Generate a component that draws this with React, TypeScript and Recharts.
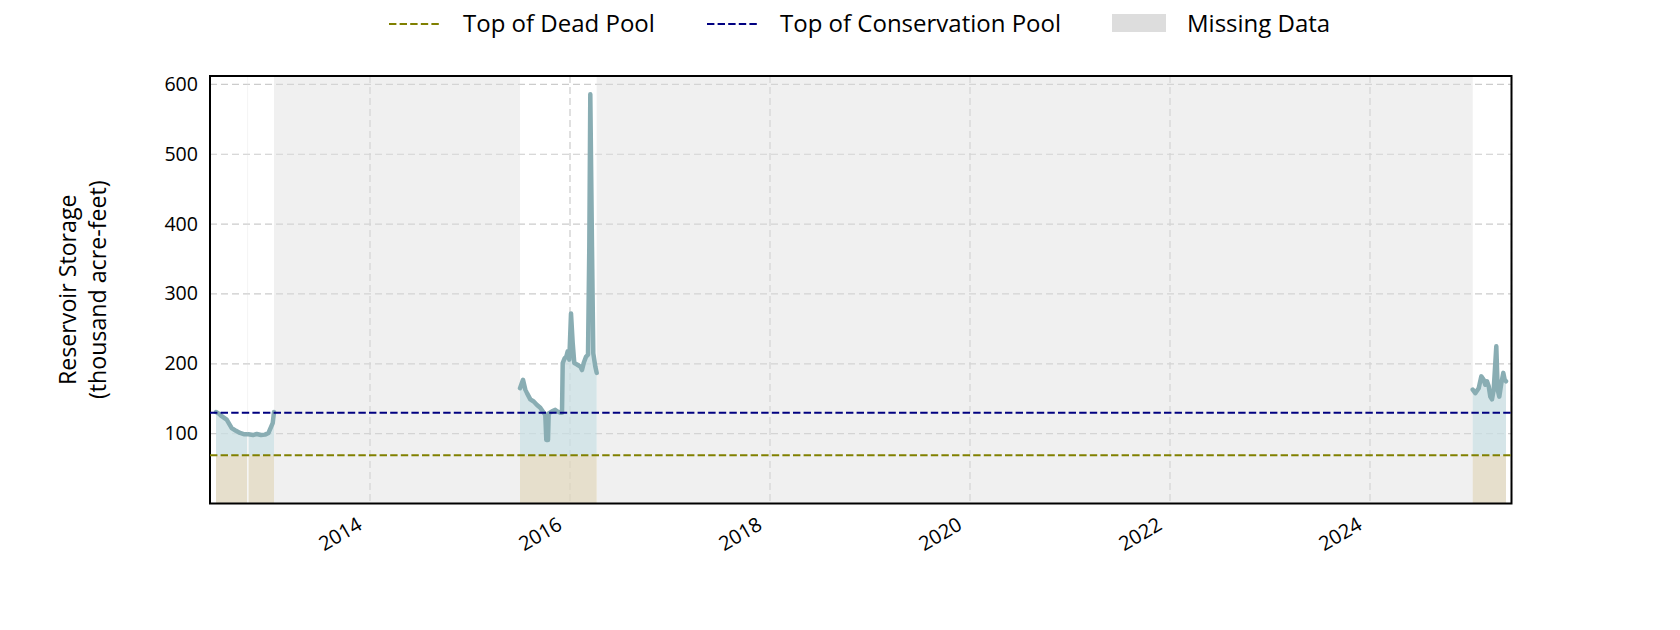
import React from "react";
import {
  ComposedChart,
  Line,
  Area,
  XAxis,
  YAxis,
  CartesianGrid,
  ReferenceArea,
  ReferenceLine,
} from "recharts";

// storage readings, thousand acre-feet, by decimal year
const seg1Years = [2012.46, 2012.485, 2012.517, 2012.567, 2012.617, 2012.66, 2012.7, 2012.745, 2012.77, 2012.777, 2012.785, 2012.83, 2012.867, 2012.91, 2012.95, 2012.985, 2013.0, 2013.027, 2013.04];
const seg1Storage = [131, 129, 125, 120, 108, 104, 101, 99, 99, null, 99, 98, 99.5, 98, 98.6, 101, 106, 115, 131];

const seg2Years = [2015.5, 2015.53, 2015.553, 2015.57, 2015.603, 2015.637, 2015.67, 2015.703, 2015.737, 2015.753, 2015.763, 2015.78, 2015.787, 2015.82, 2015.853, 2015.87, 2015.903, 2015.92, 2015.927, 2015.947, 2015.963, 2015.977, 2015.993, 2016.01, 2016.027, 2016.043, 2016.07, 2016.103, 2016.12, 2016.137, 2016.16, 2016.18, 2016.193, 2016.203, 2016.22, 2016.233, 2016.253, 2016.267];
const seg2Storage = [165, 177, 163, 158, 149, 146, 141, 137, 130, 127, 91, 91, 129, 132, 134, 132, 130, 130, 201, 208, 210, 218, 206, 272, 230, 201, 199, 196, 191, 201, 210, 213, 367, 586, 367, 215, 196, 187];

const seg3Years = [2025.027, 2025.053, 2025.087, 2025.113, 2025.137, 2025.153, 2025.17, 2025.187, 2025.203, 2025.22, 2025.237, 2025.253, 2025.263, 2025.277, 2025.293, 2025.313, 2025.333, 2025.347, 2025.36];
const seg3Storage = [163, 158, 165, 182, 177, 170, 175, 168, 153, 149, 163, 201, 225, 163, 153, 172, 187, 177, 175];

const deadPool = 69;
const conservationPool = 130;

const missingStart = [2012.773, 2013.04, 2016.267];
const missingEnd = [2012.781, 2015.5, 2025.027];

const yearTicks = [2014, 2016, 2018, 2020, 2022, 2024];
const storageTicks = [100, 200, 300, 400, 500, 600];
const xDomain = [2012.4, 2025.415];
const yDomain = [0, 612];

const FONT = "'Open Sans', sans-serif";

function toRows(years: number[], values: (number | null)[]) {
  return years.map((year, i) => ({ year, storage: values[i] }));
}

// null rows break the line across the data gaps
const rows = [
  ...toRows(seg1Years, seg1Storage),
  { year: 2014, storage: null },
  ...toRows(seg2Years, seg2Storage),
  { year: 2020, storage: null },
  ...toRows(seg3Years, seg3Storage),
];

const deadFill = (d: any) => (d.storage == null ? null : Math.min(d.storage, deadPool));
const activeFill = (d: any) => (d.storage == null ? null : [deadPool, Math.max(d.storage, deadPool)]);

function XTick({ x, y, payload }: any) {
  const ax = x - 6.5;
  const ay = y + 23;
  return (
    <text x={ax} y={ay} textAnchor="end" transform={`rotate(-30, ${ax}, ${ay})`} fontSize={20} fill="#000">
      {payload.value}
    </text>
  );
}

function YTick({ x, y, payload }: any) {
  return (
    <text x={x} y={y + 6.5} textAnchor="end" fontSize={19.6} fill="#000">
      {payload.value}
    </text>
  );
}

function YLabel({ viewBox }: any) {
  const cx = viewBox.x + 81.7;
  const cy = viewBox.y + viewBox.height / 2;
  return (
    <text
      transform={`rotate(-90, ${cx}, ${cy})`}
      x={cx}
      y={cy}
      textAnchor="middle"
      dominantBaseline="central"
      fontSize={23.2}
      fill="#000"
    >
      <tspan x={cx} dy={-15}>Reservoir Storage</tspan>
      <tspan x={cx} dy={30}>(thousand acre-feet)</tspan>
    </text>
  );
}

function LegendLine({ color }: { color: string }) {
  return (
    <svg width={52} height={6} style={{ display: "block" }}>
      <line x1={0} x2={52} y1={3} y2={3} stroke={color} strokeWidth={2.2} strokeDasharray="7.4 3.2" />
    </svg>
  );
}

function TopLegend() {
  const text: React.CSSProperties = { position: "absolute", top: 6, fontSize: 24, lineHeight: "34px", color: "#000" };
  return (
    <div style={{ position: "absolute", left: 0, top: 0, width: 1680, height: 50, fontFamily: FONT }}>
      <div style={{ position: "absolute", left: 389, top: 21 }}>
        <LegendLine color="#808000" />
      </div>
      <div style={{ ...text, left: 463 }}>Top of Dead Pool</div>
      <div style={{ position: "absolute", left: 707, top: 21 }}>
        <LegendLine color="#000080" />
      </div>
      <div style={{ ...text, left: 780 }}>Top of Conservation Pool</div>
      <div style={{ position: "absolute", left: 1112, top: 14, width: 54, height: 18, background: "#dddddd" }} />
      <div style={{ ...text, left: 1187 }}>Missing Data</div>
    </div>
  );
}

export default function App() {
  return (
    <div style={{ position: "absolute", left: 0, top: 0, width: 1680, height: 630, background: "#fff", fontFamily: FONT }}>
      <ComposedChart width={1680} height={630} data={rows} margin={{ top: 76, right: 168.5, bottom: 0, left: 0 }}>
        <CartesianGrid stroke="#cccccc" strokeDasharray="7 4" strokeWidth={1.2} />
        {missingStart.map((s, i) => (
          <ReferenceArea
            key={i}
            x1={s}
            x2={missingEnd[i]}
            y1={yDomain[0]}
            y2={yDomain[1]}
            fill="#dddddd"
            fillOpacity={0.45}
            stroke="none"
          />
        ))}
        <XAxis
          dataKey="year"
          type="number"
          domain={xDomain}
          ticks={yearTicks}
          allowDataOverflow
          axisLine={false}
          tickLine={false}
          tickSize={0}
          height={126.5}
          tick={<XTick />}
          interval={0}
        />
        <YAxis
          type="number"
          domain={yDomain}
          ticks={storageTicks}
          allowDataOverflow
          axisLine={false}
          tickLine={false}
          tickSize={0}
          tickMargin={12}
          width={210}
          tick={<YTick />}
          interval={0}
          label={{ content: YLabel }}
        />
        <Area
          type="linear"
          dataKey={deadFill}
          fill="#e0d7bf"
          fillOpacity={0.8}
          stroke="none"
          isAnimationActive={false}
          connectNulls={false}
        />
        <Area
          type="linear"
          dataKey={activeFill}
          fill="#cadee2"
          fillOpacity={0.8}
          stroke="none"
          isAnimationActive={false}
          connectNulls={false}
        />
        <Line
          type="linear"
          dataKey="storage"
          stroke="#89adb3"
          strokeWidth={4.5}
          dot={false}
          strokeLinejoin="round"
          strokeLinecap="round"
          isAnimationActive={false}
          connectNulls={false}
        />
        <ReferenceLine y={deadPool} stroke="#808000" strokeWidth={2} strokeDasharray="7.4 3.2" />
        <ReferenceLine y={conservationPool} stroke="#000080" strokeWidth={2} strokeDasharray="7.4 3.2" />
        <ReferenceArea
          x1={xDomain[0]}
          x2={xDomain[1]}
          y1={yDomain[0]}
          y2={yDomain[1]}
          fill="none"
          stroke="#000"
          strokeWidth={2}
        />
      </ComposedChart>
      <TopLegend />
    </div>
  );
}
